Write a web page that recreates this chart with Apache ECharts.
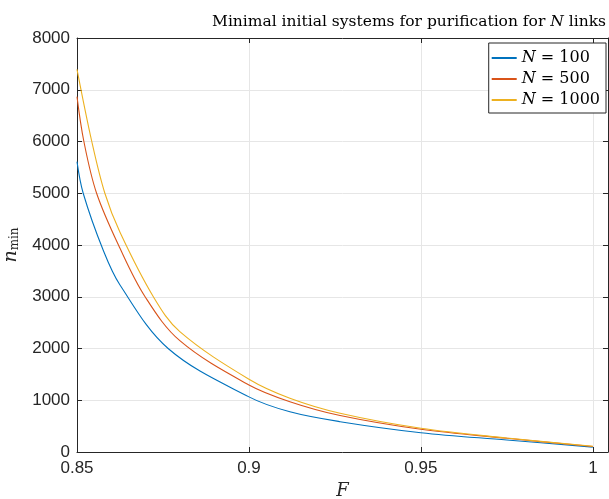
<!DOCTYPE html>
<html>
<head>
<meta charset="utf-8">
<script src="https://cdn.jsdelivr.net/npm/echarts@6/dist/echarts.min.js"></script>
<style>
html,body{margin:0;padding:0;background:#fff;}
#c{width:609px;height:499px;}
</style>
</head>
<body>
<div id="c"></div>
<script>
// ---- data ----
const seriesNames = ['N = 100', 'N = 500', 'N = 1000'];
const fN100 = [0.85, 0.8518, 0.8576, 0.8625, 0.8765, 0.9000, 0.9119, 0.9265, 0.9500, 0.9750, 1.0];
const nN100 = [5610, 5000, 3903, 3227, 2000, 1065, 777, 586, 373, 232, 95];
const fN500 = [0.85, 0.8520, 0.8557, 0.8625, 0.8698, 0.8799, 0.9000, 0.9119, 0.9265, 0.9500, 0.9750, 1.0];
const nN500 = [6866, 6000, 5000, 3936, 3000, 2151, 1295, 972, 705, 439, 265, 105];
const fN1000 = [0.85, 0.8543, 0.8581, 0.8625, 0.8722, 0.8799, 0.9000, 0.9119, 0.9265, 0.9500, 0.9750, 1.0];
const nN1000 = [7395, 6000, 5000, 4245, 3000, 2325, 1405, 1038, 748, 458, 270, 110];
const xTicks = [0.85, 0.9, 0.95, 1];
const yTicks = [0, 1000, 2000, 3000, 4000, 5000, 6000, 7000, 8000];

const colors = ['#0072BD', '#D95319', '#EDB120'];
const axisCol = '#262626';
const gridCol = '#e6e6e6';
const sans = 'Liberation Sans, Arial, sans-serif';
const serif = 'DejaVu Serif, Liberation Serif, serif';

function pairs(xs, ys){ return xs.map((x,i)=>[x, ys[i]]); }
const allF = [fN100, fN500, fN1000];
const allN = [nN100, nN500, nN1000];

const xMin = xTicks[0], xMax = 1.0044;
const yMin = yTicks[0], yMax = yTicks[yTicks.length-1];

const chart = echarts.init(document.getElementById('c'), null, {renderer:'canvas'});
const tickInside = {show:true, inside:true, length:5, lineStyle:{color:axisCol, width:1}};
chart.setOption({
  animation:false,
  backgroundColor:'#fff',
  title:{
    text:'{a|Minimal initial systems for purification for }{i|N}{a| links}',
    left:404, top:9, textAlign:'center',
    textStyle:{rich:{
      a:{fontFamily:serif, fontSize:15.5, fontWeight:'normal', color:'#000'},
      i:{fontFamily:serif, fontSize:15.5, fontWeight:'normal', fontStyle:'italic', color:'#000'}
    }}
  },
  legend:{
    data:seriesNames,
    right:3, top:43, orient:'vertical',
    backgroundColor:'#fff', borderColor:axisCol, borderWidth:1,
    padding:[7,6,5,3], itemGap:5, itemWidth:25, itemHeight:2, icon:'rect',
    formatter:function(name){ const p=name.split(' = '); return '{i|'+p[0]+'}{r| = '+p[1]+'}'; },
    textStyle:{rich:{
      i:{fontFamily:serif, fontSize:16, fontStyle:'italic', color:'#000', lineHeight:17},
      r:{fontFamily:serif, fontSize:16, color:'#000', lineHeight:17}
    }}
  },
  grid:{left:77, right:1, top:38, bottom:47, containLabel:false, outerBoundsMode:'none'},
  xAxis:[{
    type:'value', min:xMin, max:xMax, interval:0.05,
    name:'F', nameLocation:'middle', nameGap:30,
    nameTextStyle:{fontFamily:serif, fontStyle:'italic', fontSize:18, color:axisCol},
    axisLine:{show:true, lineStyle:{color:axisCol, width:1}},
    axisTick:tickInside,
    axisLabel:{show:true, margin:8, showMaxLabel:false, fontFamily:sans, fontSize:17, color:axisCol,
      formatter:function(v){ return xTicks.some(t=>Math.abs(t-v)<1e-9) ? String(+v.toFixed(2)) : ''; }},
    splitLine:{show:true, lineStyle:{color:gridCol, width:1}}
  },{
    type:'value', min:xMin, max:xMax, interval:0.05, position:'top',
    axisLine:{show:true, onZero:false, lineStyle:{color:axisCol, width:1}},
    axisTick:tickInside, axisLabel:{show:false}, splitLine:{show:false}
  }],
  yAxis:[{
    type:'value', min:yMin, max:yMax, interval:1000,
    name:'{n|n}{s|min}', nameLocation:'middle', nameGap:54, nameRotate:90,
    nameTextStyle:{rich:{
      n:{fontFamily:serif, fontStyle:'italic', fontSize:19, color:axisCol},
      s:{fontFamily:serif, fontSize:12, color:axisCol, padding:[8,0,0,0]}
    }},
    axisLine:{show:true, lineStyle:{color:axisCol, width:1}},
    axisTick:tickInside,
    axisLabel:{show:true, margin:7, fontFamily:sans, fontSize:17, color:axisCol,
      formatter:function(v){ return String(v); }},
    splitLine:{show:true, lineStyle:{color:gridCol, width:1}}
  },{
    type:'value', min:yMin, max:yMax, interval:1000, position:'right',
    axisLine:{show:true, onZero:false, lineStyle:{color:axisCol, width:1}},
    axisTick:tickInside, axisLabel:{show:false}, splitLine:{show:false}
  }],
  series: seriesNames.map((nm,i)=>({
    name:nm, type:'line', xAxisIndex:0, yAxisIndex:0,
    data:pairs(allF[i], allN[i]),
    smooth:0.35,
    symbol:'none', showSymbol:false,
    lineStyle:{color:colors[i], width:1.1},
    itemStyle:{color:colors[i]},
    z:3+i
  }))
});
</script>
</body>
</html>
